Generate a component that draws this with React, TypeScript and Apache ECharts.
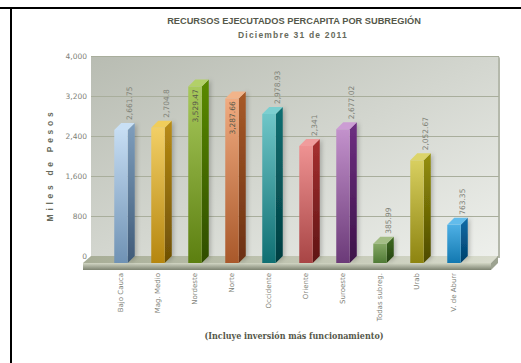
import React, { useEffect, useRef } from "react";
import * as echarts from "echarts";

const categories = ["Bajo Cauca", "Mag. Medio", "Nordeste", "Norte", "Occidente", "Oriente", "Suroeste", "Todas subreg.", "Urab", "V. de Aburr"];
const values = [2661.75, 2704.8, 3529.47, 3287.66, 2978.93, 2341, 2677.02, 385.99, 2052.67, 763.35];
const frontTop = ["#c6ddf3", "#f2cf66", "#a8c95c", "#f0ab80", "#6fc6c8", "#ee9292", "#c392cc", "#86a866", "#d8cf60", "#4eb0e5"];
const frontBottom = ["#6f92b4", "#b5860f", "#5c7f10", "#a9582a", "#0f6f72", "#a84545", "#6b3a78", "#4f7a35", "#8d8410", "#1278b0"];
const sideTop = ["#7f9fbe", "#b98c14", "#5a8a06", "#a85a28", "#0c6f72", "#a83030", "#6e2f82", "#3f6a23", "#96900a", "#0c6ca8"];
const sideBottom = ["#3f5a78", "#6d4f05", "#2f4d00", "#6b3013", "#033d40", "#5e1414", "#3c1248", "#25430f", "#4d4a02", "#033f6a"];
const topFace = ["#c9e0f5", "#f0cd5a", "#b2d068", "#f2b48a", "#7ccfd0", "#f09c9c", "#cc9dd4", "#a3bd85", "#dcd46a", "#62bcec"];
const yMax = 4000;
const yStep = 800;

const fmt = (v: number) => v.toLocaleString("en-US", { maximumFractionDigits: 2 });
const vGrad = (a: string, b: string) =>
  new echarts.graphic.LinearGradient(0, 0, 0, 1, [{ offset: 0, color: a }, { offset: 1, color: b }]);

const DEPTH = 7;
const BAR_W = 13.5;
const labelFont = "DejaVu Sans";

function renderBar(params: any, api: any) {
  const i = api.value(0);
  const v = api.value(1);
  const [cx, yTop] = api.coord([i, v]);
  const [, yBase] = api.coord([i, 0]);
  const l = cx - BAR_W / 2;
  const r = cx + BAR_W / 2;
  const inside = v > 3000;
  return {
    type: "group",
    children: [
      {
        type: "polygon",
        shape: { points: [[r, yTop], [r + DEPTH, yTop - DEPTH], [r + DEPTH, yBase - DEPTH], [r, yBase]] },
        style: { fill: vGrad(sideTop[i], sideBottom[i]), shadowColor: "rgba(0,0,0,0.22)", shadowBlur: 4, shadowOffsetX: 2 },
      },
      {
        type: "polygon",
        shape: { points: [[l, yTop], [r, yTop], [r + DEPTH, yTop - DEPTH], [l + DEPTH, yTop - DEPTH]] },
        style: { fill: topFace[i] },
      },
      {
        type: "rect",
        shape: { x: l, y: yTop, width: BAR_W, height: yBase - yTop },
        style: { fill: vGrad(frontTop[i], frontBottom[i]) },
      },
      {
        type: "text",
        x: inside ? cx : cx + 8,
        y: inside ? yTop + 36 : yTop - DEPTH - 3,
        rotation: Math.PI / 2,
        style: {
          text: fmt(v),
          fill: inside ? "#5a5a4a" : "#808278",
          font: `7.5px "${labelFont}"`,
          align: "left",
          verticalAlign: "middle",
        },
      },
    ],
  };
}

export default function App() {
  const ref = useRef<HTMLDivElement>(null);
  useEffect(() => {
    const chart = echarts.init(ref.current!, null, { renderer: "svg" });
    chart.setOption({
      animation: false,
      backgroundColor: "#fff",
      title: [
        {
          text: "RECURSOS EJECUTADOS PERCAPITA POR SUBREGIÓN",
          left: 289, top: 11, textAlign: "center",
          textStyle: { fontFamily: "Liberation Sans", fontSize: 9.25, fontWeight: "bold", color: "#55584a" },
        },
        {
          text: "Diciembre 31 de 2011",
          left: 288, top: 25, textAlign: "center",
          textStyle: { fontFamily: "Liberation Sans", fontSize: 8.5, fontWeight: "bold", color: "#666a5c" },
        },
        {
          text: "(Incluye inversión más funcionamiento)",
          left: 289, top: 326, textAlign: "center",
          textStyle: { fontFamily: "DejaVu Serif Condensed", fontSize: 8.9, fontWeight: "bold", color: "#55584a" },
        },
      ],
      grid: [
        { left: 91, top: 56, width: 408, height: 200 },
        { left: 102.5, top: 63, width: 370, height: 200 },
      ],
      xAxis: [
        { gridIndex: 0, type: "value", min: 0, max: 1, show: false },
        {
          gridIndex: 1, type: "category", data: categories,
          axisLine: { show: false }, axisTick: { show: false },
          axisLabel: { rotate: 90, margin: 10, interval: 0, fontFamily: labelFont, fontSize: 7, color: "#808278" },
        },
      ],
      yAxis: [
        {
          gridIndex: 0, type: "value", min: 0, max: yMax, interval: yStep,
          name: "Miles de Pesos", nameLocation: "middle", nameGap: 17, nameRotate: 90,
          nameTextStyle: { fontFamily: "Liberation Sans", fontSize: 8.5, fontWeight: "bold", color: "#666a5c", padding: [0, 18, 0, 0] },
          axisLine: { show: false }, axisTick: { show: false },
          axisLabel: { margin: 4, fontFamily: labelFont, fontSize: 7.5, color: "#808278", formatter: (v: number) => fmt(v) },
          splitLine: { show: true, lineStyle: { color: "#a9ae9c", width: 1 } },
        },
        { gridIndex: 1, type: "value", min: 0, max: yMax, interval: yStep, show: false },
      ],
      series: [
        {
          type: "custom", xAxisIndex: 1, yAxisIndex: 1, clip: false,
          data: values.map((v, i) => [i, v]),
          encode: { x: 0, y: 1 },
          renderItem: renderBar,
          z: 5,
        },
      ],
      graphic: {
        elements: [
          { type: "rect", z: -10, shape: { x: 0, y: 7, width: 521, height: 2 }, style: { fill: "#000" } },
          { type: "rect", z: -10, shape: { x: 10, y: 7, width: 2, height: 356 }, style: { fill: "#000" } },
          { type: "rect", z: -10, shape: { x: 91, y: 56, width: 409, height: 202, r: [0, 3, 0, 0] }, style: { fill: "#b4b8ab" } },
          {
            type: "rect", z: -9, shape: { x: 91, y: 56, width: 407, height: 202 },
            style: {
              fill: new echarts.graphic.LinearGradient(0, 0, 1, 1, [
                { offset: 0, color: "#b8bcb2" }, { offset: 1, color: "#eef0ec" },
              ]),
            },
          },
          {
            type: "polygon", z: 3, shape: { points: [[83, 263], [91, 256], [498, 256], [491, 263]] },
            style: {
              fill: new echarts.graphic.LinearGradient(0, 0, 1, 0, [
                { offset: 0, color: "#a7ad96" }, { offset: 1, color: "#d9dccd" },
              ]),
            },
          },
          {
            type: "rect", z: 3, shape: { x: 83, y: 263, width: 408, height: 7 },
            style: { fill: vGrad("#d2d6c4", "#7d8371") },
          },
          { type: "polygon", z: 3, shape: { points: [[491, 263], [498, 256], [498, 263], [491, 270]] }, style: { fill: "#9da391" } },
        ],
      },
    });
    const spaced: Record<string, string> = { "Diciembre 31 de 2011": "1.2px", "Miles de Pesos": "3.7px" };
    ref.current!.querySelectorAll("text").forEach((t) => {
      const s = spaced[(t.textContent || "").trim()];
      if (s) t.setAttribute("letter-spacing", s);
    });
    return () => chart.dispose();
  }, []);
  return <div ref={ref} style={{ position: "absolute", left: 0, top: 0, width: 521, height: 363 }} />;
}
